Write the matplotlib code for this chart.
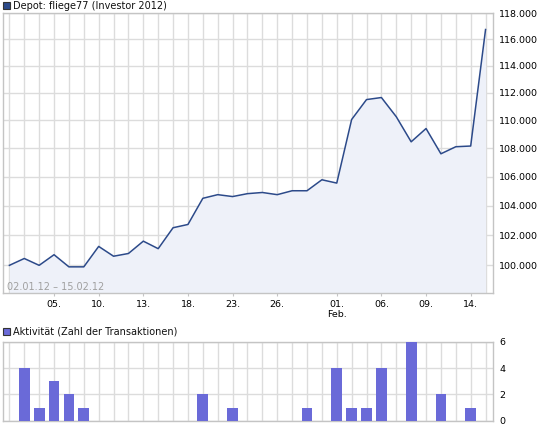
import matplotlib
matplotlib.use("Agg")
import matplotlib.pyplot as plt
from matplotlib.patches import Rectangle
from matplotlib.ticker import NullLocator

# ---------------------------------------------------------
# Daten: Depotwert (in Tsd.) und Anzahl Transaktionen je Handelstag
# ---------------------------------------------------------
trade_days = [
    "2012-01-02", "2012-01-03", "2012-01-04", "2012-01-05", "2012-01-06",
    "2012-01-09", "2012-01-10", "2012-01-11", "2012-01-12", "2012-01-13",
    "2012-01-16", "2012-01-17", "2012-01-18", "2012-01-19", "2012-01-20",
    "2012-01-23", "2012-01-24", "2012-01-25", "2012-01-26", "2012-01-27",
    "2012-01-30", "2012-01-31", "2012-02-01", "2012-02-02", "2012-02-03",
    "2012-02-06", "2012-02-07", "2012-02-08", "2012-02-09", "2012-02-10",
    "2012-02-13", "2012-02-14", "2012-02-15",
]
depot_values = [
    100.0, 100.45, 100.0, 100.7, 99.9,
    99.9, 101.25, 100.6, 100.78, 101.6,
    101.1, 102.5, 102.72, 104.5, 104.75,
    104.62, 104.82, 104.9, 104.75, 105.02,
    105.02, 105.78, 105.55, 110.05, 111.5,
    111.65, 110.25, 108.45, 109.4, 107.6,
    108.1, 108.15, 116.75,
]
activity = [
    0, 4, 1, 3, 2,
    1, 0, 0, 0, 0,
    0, 0, 0, 2, 0,
    1, 0, 0, 0, 0,
    1, 0, 4, 1, 1,
    4, 0, 6, 0, 2,
    0, 1, 0,
]

xtick_days = ["2012-01-05", "2012-01-10", "2012-01-13", "2012-01-18", "2012-01-23",
              "2012-01-26", "2012-02-01", "2012-02-06", "2012-02-09", "2012-02-14"]
xtick_labels = ["05.", "10.", "13.", "18.", "23.", "26.", "01.\nFeb.", "06.", "09.", "14."]
ytick_values = [100, 102, 104, 106, 108, 110, 112, 114, 116, 118]
ytick_labels = ["100.000", "102.000", "104.000", "106.000", "108.000",
                "110.000", "112.000", "114.000", "116.000", "118.000"]
act_ticks = [0, 2, 4, 6]

LINE = "#2c4a8a"
FILL = "#eef1f9"
BAR = "#6a6ad8"
GRID = "#dcdcdc"
FRAME = "#c4c4c4"

x = list(range(len(trade_days)))
xtick_pos = [trade_days.index(d) for d in xtick_days]

W, H = 545, 430
fig = plt.figure(figsize=(W / 100, H / 100), dpi=100)
plt.rcParams['font.family'] = ['DejaVu Sans']


def px_axes(left, top, right, bottom):
    # Pixelkoordinaten -> Figure-Bruchteile
    return [left / W, 1 - bottom / H, (right - left) / W, (bottom - top) / H]


def style_axes(ax):
    for sp in ax.spines.values():
        sp.set_color(FRAME)
        sp.set_linewidth(1)
    ax.set_xticks(x, minor=True)
    ax.set_xlim(-0.45, len(x) - 0.5)
    ax.yaxis.tick_right()
    ax.tick_params(axis='x', which='major', length=2, color=FRAME, labelsize=6.8, pad=3)
    ax.tick_params(axis='y', which='major', length=0, labelsize=6.8, pad=4.5)
    ax.tick_params(which='minor', length=0)
    ax.grid(True, which='both', axis='x', color=GRID, linewidth=1)
    ax.grid(True, which='major', axis='y', color=GRID, linewidth=1)
    ax.set_axisbelow(True)


# ---------------------------------------------------------
# 1. Depotverlauf
# ---------------------------------------------------------
ax1 = fig.add_axes(px_axes(2.7, 13.3, 493.0, 293.3))
ax1.set_yscale('log')
ymin = 98.18
ax1.fill_between(x, depot_values, ymin, color=FILL, linewidth=0, zorder=1)
ax1.plot(x, depot_values, color=LINE, linewidth=1.1, zorder=3)
ax1.set_ylim(ymin, 118)
style_axes(ax1)
ax1.yaxis.set_minor_locator(NullLocator())
ax1.set_yticks(ytick_values)
ax1.set_yticklabels(ytick_labels)
ax1.set_xticks(xtick_pos)
ax1.set_xticklabels(xtick_labels, linespacing=1.15)

fig.text(7 / W, 1 - 290 / H, "02.01.12 \u2013 15.02.12", color="#a0a0a0",
         fontsize=7, va='baseline', ha='left')

# ---------------------------------------------------------
# 2. Aktivitaet
# ---------------------------------------------------------
ax2 = fig.add_axes(px_axes(2.7, 341.7, 493.0, 420.7))
ax2.bar(x, activity, width=0.72, color=BAR, zorder=3)
ax2.set_ylim(0, 6)
style_axes(ax2)
ax2.set_yticks(act_ticks)
ax2.set_xticks([])

# Titel mit Farbkaestchen
for top, text, col in [(1.7, "Depot: fliege77 (Investor 2012)", LINE),
                       (327.5, "Aktivit\u00e4t (Zahl der Transaktionen)", BAR)]:
    fig.patches.append(Rectangle((2.7 / W, 1 - (top + 7.5) / H), 7.5 / W, 7.5 / H,
                                 transform=fig.transFigure, facecolor=col,
                                 edgecolor="#333333", linewidth=0.8))
    fig.text(13 / W, 1 - (top + 3.9) / H, text, fontsize=7, va='center',
             ha='left', color="#111111")

fig.savefig("out.png", dpi=100)
